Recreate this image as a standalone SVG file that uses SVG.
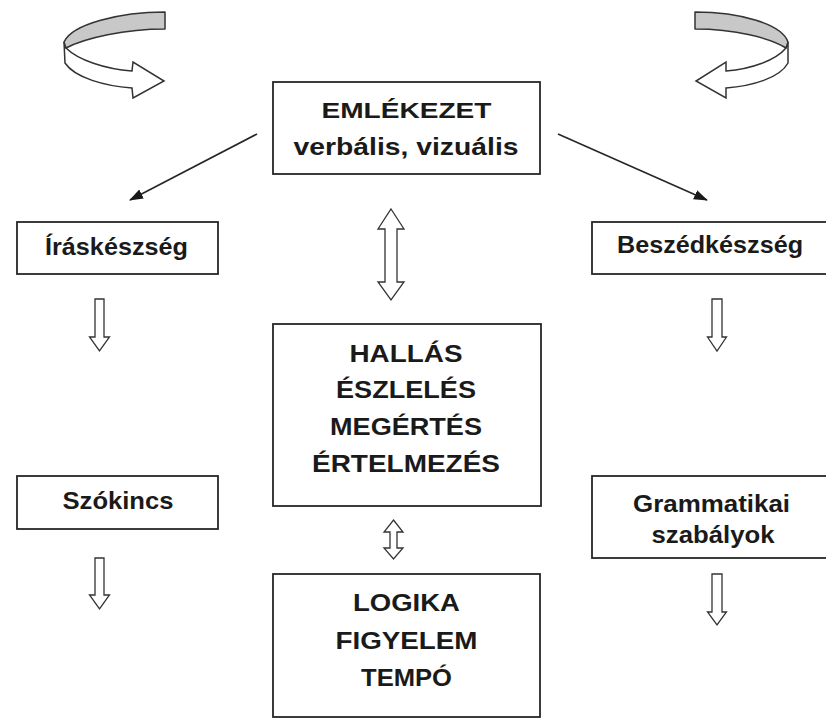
<svg xmlns="http://www.w3.org/2000/svg" width="826" height="718" viewBox="0 0 826 718">
<style>
.box{fill:#fff;stroke:#262626;stroke-width:1.8}
.t{font-family:"Liberation Sans",Arial,sans-serif;font-weight:bold;fill:#1a1a1a;text-anchor:middle}
.hol{fill:#fff;stroke:#333;stroke-width:1.3;stroke-linejoin:miter}
.ln{stroke:#262626;stroke-width:1.6;fill:none}
.band{fill:#c8c8c8;stroke:#333;stroke-width:1.5;stroke-linejoin:round}
.rib{fill:#fff;stroke:#333;stroke-width:1.5;stroke-linejoin:miter}
</style>
<defs>
<marker id="ah" markerUnits="userSpaceOnUse" markerWidth="14" markerHeight="12" refX="13" refY="5" orient="auto">
<path d="M0,0 L14,5 L0,10 Z" fill="#1a1a1a"/>
</marker>
</defs>
<rect width="826" height="718" fill="#fff"/>

<g id="connectors">
<g id="curl-left">
<path class="rib" d="M64,42 L65,63 C75,78 105,86 132,88 L133,98 L164,81 L133,62 L132,71 C105,69 78,60 66,48 Z"/>
<path class="band" d="M165,12 C120,12 72,24 64,42 L66,48 C85,38 125,29 165,29 Z"/>
</g>
<g id="curl-right">
<path class="rib" d="M788,42 L788,63 C780,78 752,86 726,88 L726,98 L696,81 L726,62 L726,71 C752,69 776,60 786,48 Z"/>
<path class="band" d="M695,12 C740,12 782,24 788,42 L786,48 C770,38 735,29 695,29 Z"/>
</g>
<line class="ln" x1="257" y1="134" x2="130" y2="200" marker-end="url(#ah)"/>
<line class="ln" x1="558" y1="134" x2="707" y2="200" marker-end="url(#ah)"/>
<polygon class="hol" points="391,209 404,229 397,229 397,282 404,282 391,300 378,282 385,282 385,229 378,229"/>
<polygon class="hol" points="393.5,520 403,532 397,532 397,548 403,548 393.5,559 384,548 390,548 390,532 384,532"/>
<polygon class="hol" points="95,299 104,299 104,337 109.5,337 99.5,351 89.5,337 95,337"/>
<polygon class="hol" points="712,299 722,299 722,337 726.5,337 717,351 707.5,337 712,337"/>
<polygon class="hol" points="95,558 104,558 104,595 109.5,595 99.5,609 89.5,595 95,595"/>
<polygon class="hol" points="712,574 722,574 722,612 726.5,612 717,625 707.5,612 712,612"/>
</g>

<g id="emlekezet">
<rect class="box" x="273" y="82" width="267" height="92"/>
<text class="t" x="406.5" y="118" font-size="22" textLength="170" lengthAdjust="spacingAndGlyphs">EMLÉKEZET</text>
<text class="t" x="406" y="155" font-size="24" textLength="225" lengthAdjust="spacingAndGlyphs">verbális, vizuális</text>
</g>

<g id="iraskeszseg">
<rect class="box" x="17" y="222" width="201" height="52"/>
<text class="t" x="116.5" y="255" font-size="24" textLength="143" lengthAdjust="spacingAndGlyphs">Íráskészség</text>
</g>

<g id="beszedkeszseg">
<rect class="box" x="592" y="222" width="240" height="52"/>
<text class="t" x="710" y="253" font-size="24" textLength="186" lengthAdjust="spacingAndGlyphs">Beszédkészség</text>
</g>

<g id="hallas">
<rect class="box" x="273" y="324" width="268" height="182"/>
<text class="t" x="406" y="362" font-size="23" textLength="113" lengthAdjust="spacingAndGlyphs">HALLÁS</text>
<text class="t" x="406" y="398" font-size="23" textLength="140" lengthAdjust="spacingAndGlyphs">ÉSZLELÉS</text>
<text class="t" x="406" y="435" font-size="23" textLength="152" lengthAdjust="spacingAndGlyphs">MEGÉRTÉS</text>
<text class="t" x="406" y="472" font-size="23" textLength="188" lengthAdjust="spacingAndGlyphs">ÉRTELMEZÉS</text>
</g>

<g id="szokincs">
<rect class="box" x="17" y="476" width="201" height="53"/>
<text class="t" x="118" y="509" font-size="24" textLength="111" lengthAdjust="spacingAndGlyphs">Szókincs</text>
</g>

<g id="grammatikai">
<rect class="box" x="592" y="476" width="240" height="82"/>
<text class="t" x="711.5" y="511.5" font-size="24" textLength="157" lengthAdjust="spacingAndGlyphs">Grammatikai</text>
<text class="t" x="713" y="543" font-size="24" textLength="123" lengthAdjust="spacingAndGlyphs">szabályok</text>
</g>

<g id="logika">
<rect class="box" x="273" y="574" width="267" height="143"/>
<text class="t" x="406.5" y="611" font-size="23" textLength="107" lengthAdjust="spacingAndGlyphs">LOGIKA</text>
<text class="t" x="406.5" y="649" font-size="23" textLength="142" lengthAdjust="spacingAndGlyphs">FIGYELEM</text>
<text class="t" x="406.5" y="686" font-size="23" textLength="91" lengthAdjust="spacingAndGlyphs">TEMPÓ</text>
</g>
</svg>
